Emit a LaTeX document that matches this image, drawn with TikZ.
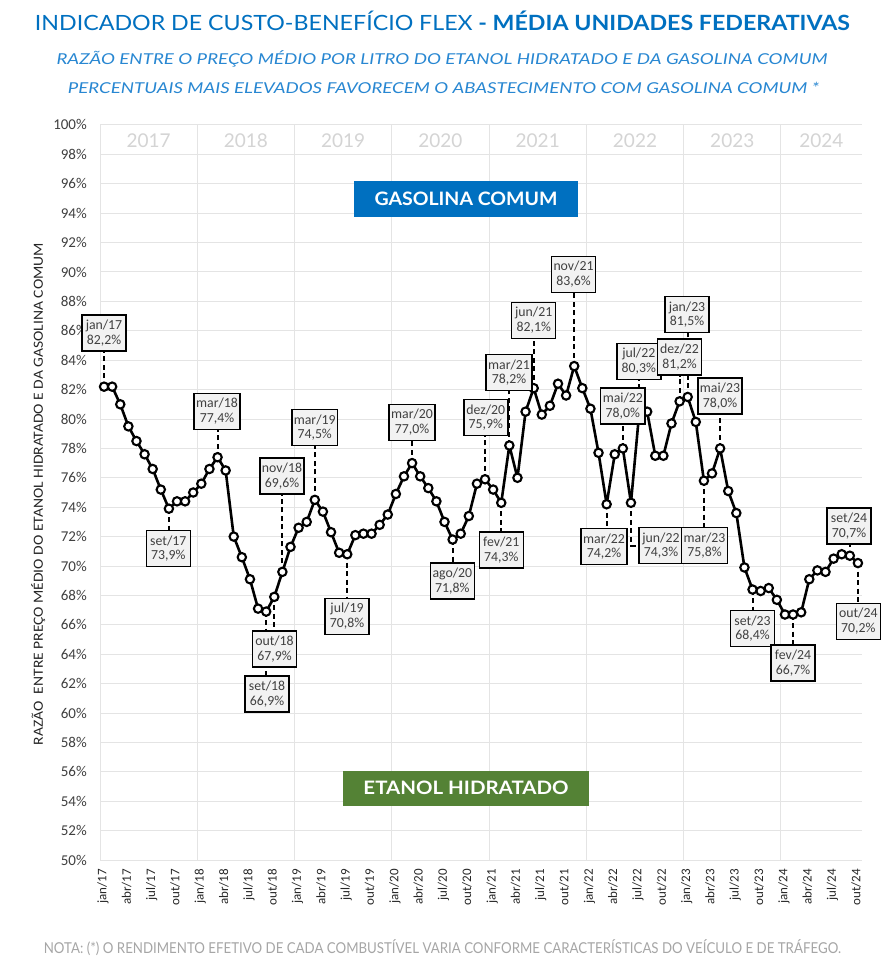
\documentclass[tikz,border=0pt]{standalone}
\usepackage{fontspec}
\usepackage{graphicx}
\setmainfont{Carlito}
\newfontfamily\latofont{Lato}
\usetikzlibrary{calc}
\pgfdeclarelayer{front}
\pgfsetlayers{main,front}
\definecolor{titleblue}{RGB}{0,112,192}
\definecolor{subblue}{RGB}{40,135,210}
\definecolor{gasblue}{RGB}{0,112,192}
\definecolor{etgreen}{RGB}{84,130,53}
\definecolor{gridgray}{RGB}{228,228,228}
\definecolor{yeargray}{RGB}{212,212,212}
\definecolor{notegray}{RGB}{166,166,166}
\definecolor{lblfill}{RGB}{242,242,242}
\definecolor{txtgray}{RGB}{64,64,64}
\tikzset{
  gridline/.style={draw=gridgray, line width=1pt},
  ytick/.style={anchor=base east, inner sep=0pt, text=txtgray, font=\fontsize{15}{17}\selectfont},
  xtick/.style={anchor=mid east, rotate=90, inner sep=0pt, text=black!85, font=\fontsize{13}{15}\selectfont},
  yearlbl/.style={anchor=base, inner sep=0pt, text=yeargray, font=\latofont\fontsize{19}{21}\selectfont},
  dataline/.style={draw=black, line width=2.6pt, line join=round},
  ptmark/.style={circle, draw=black, fill=white, line width=2.1pt, minimum size=8.4pt, inner sep=0pt},
  leaderline/.style={draw=black, line width=2pt, dash pattern=on 5pt off 3.5pt},
  datalbl/.style={draw=black, line width=1.4pt, fill=lblfill, text=txtgray, align=center,
     minimum width=44pt, minimum height=36pt, inner sep=2pt, font=\fontsize{13.8}{14.7}\selectfont},
  legbox/.style={text=white, inner sep=0pt, font=\latofont\bfseries\fontsize{18.5}{20}\selectfont},
}
\begin{document}
\begin{tikzpicture}[x=1pt,y=-1pt]
\useasboundingbox (0,0) rectangle (886,965);
\fill[white] (0,0) rectangle (886,965);
% titles
\node[anchor=base, inner sep=0pt, text=titleblue] (title) at (442.5,30.7)
  {\resizebox{815pt}{\height}{\latofont\fontsize{21}{24}\selectfont INDICADOR DE CUSTO-BENEFÍCIO FLEX {\bfseries - MÉDIA UNIDADES FEDERATIVAS}}};
\node[anchor=base, inner sep=0pt, text=subblue] (sub1) at (442,65)
  {\resizebox{771pt}{\height}{\latofont\itshape\fontsize{15}{17}\selectfont RAZÃO ENTRE O PREÇO MÉDIO POR LITRO DO ETANOL HIDRATADO E DA GASOLINA COMUM}};
\node[anchor=base, inner sep=0pt, text=subblue] (sub2) at (443.4,93.5)
  {\resizebox{751pt}{\height}{\latofont\itshape\fontsize{15}{17}\selectfont PERCENTUAIS MAIS ELEVADOS FAVORECEM O ABASTECIMENTO COM GASOLINA COMUM *}};
% grid
\foreach \k in {0,...,25} {
  \draw[gridline] (100,{125+\k*29.4}) -- (862,{125+\k*29.4});
  \pgfmathtruncatemacro\pv{100-2*\k}
  \node[ytick] (yt\k) at (87,{130+\k*29.4}) {\pv\%};
}
\foreach \k in {0,...,7} {
  \draw[gridline] ({100+\k*97.272},125) -- ({100+\k*97.272},860);
}
\foreach \yr [count=\k from 0] in {2017,...,2024} {
  \pgfmathsetmacro\xa{100+\k*97.272}
  \pgfmathsetmacro\xb{min(862,100+(\k+1)*97.272)}
  \node[yearlbl] (yr\yr) at ({(\xa+\xb)/2},147.5) {\yr};
}
% x tick labels
\foreach \yy [count=\yi from 0] in {17,...,24} {
  \foreach \mm [count=\mi from 0] in {jan,abr,jul,out} {
    \pgfmathsetmacro\xx{100+(12*\yi+3*\mi+0.5)*8.106}
    \node[xtick] (xl\mm\yy) at (\xx,869) {\mm/\yy};
  }
}
% y axis title
\node[rotate=90, inner sep=0pt, text=black!85] (ytitle) at (38.3,494)
  {\resizebox{502pt}{\height}{\fontsize{14}{16}\selectfont RAZÃO\ \ ENTRE PREÇO MÉDIO DO ETANOL HIDRATADO E DA GASOLINA COMUM}};
% legend boxes
\node[legbox, fill=gasblue, minimum width=223.4pt, minimum height=36pt] (gas) at (466,199)
  {\resizebox{183pt}{\height}{GASOLINA COMUM}};
\node[legbox, fill=etgreen, minimum width=246pt, minimum height=35pt] (eta) at (466,788.3)
  {\resizebox{205pt}{\height}{ETANOL HIDRATADO}};
% note
\node[anchor=base, inner sep=0pt, text=notegray] (nota) at (442.3,953)
  {\resizebox{797pt}{\height}{\latofont\fontsize{15}{17}\selectfont NOTA: (*) O RENDIMENTO EFETIVO DE CADA COMBUSTÍVEL VARIA CONFORME CARACTERÍSTICAS DO VEÍCULO E DE TRÁFEGO.}};
% data coordinates
\foreach \v [count=\n from 0] in {82.2,82.2,81.0,79.5,78.5,77.6,76.6,75.2,73.9,74.4,
 74.4,75.0,75.6,76.6,77.4,76.5,72.0,70.6,69.1,67.1,
 66.9,67.9,69.6,71.3,72.6,73.0,74.5,73.7,72.3,70.9,
 70.8,72.1,72.2,72.2,72.8,73.5,74.9,76.1,77.0,76.1,
 75.3,74.4,73.0,71.8,72.2,73.4,75.6,75.9,75.2,74.3,
 78.2,76.0,80.5,82.1,80.3,80.9,82.4,81.6,83.6,82.1,
 80.7,77.7,74.2,77.6,78.0,74.3,80.3,80.5,77.5,77.5,
 79.7,81.2,81.5,79.8,75.8,76.3,78.0,75.1,73.6,69.9,
 68.4,68.3,68.5,67.7,66.7,66.7,66.85,69.1,69.7,69.6,
 70.5,70.8,70.7,70.2} {
  \coordinate (c\n) at ({100+(\n+0.5)*8.106},{125+(100-\v)*14.7});
}
% data labels (front layer)
\begin{pgfonlayer}{front}
\node[datalbl] (l0) at (104,333) {jan/17\\82,2\%};
\node[datalbl] (l8) at (168.3,548.5) {set/17\\73,9\%};
\node[datalbl] (l14) at (217,411.3) {mar/18\\77,4\%};
\node[datalbl] (l20) at (267,694) {set/18\\66,9\%};
\node[datalbl] (l21) at (274.5,649) {out/18\\67,9\%};
\node[datalbl] (l22) at (282,476) {nov/18\\69,6\%};
\node[datalbl] (l26) at (314.7,427.5) {mar/19\\74,5\%};
\node[datalbl] (l30) at (347,616.3) {jul/19\\70,8\%};
\node[datalbl] (l38) at (412,422.3) {mar/20\\77,0\%};
\node[datalbl] (l43) at (452.3,581) {ago/20\\71,8\%};
\node[datalbl] (l47) at (485.8,417.7) {dez/20\\75,9\%};
\node[datalbl] (l49) at (501.3,550) {fev/21\\74,3\%};
\node[datalbl] (l50) at (509,372.5) {mar/21\\78,2\%};
\node[datalbl] (l53) at (533.7,320.3) {jun/21\\82,1\%};
\node[datalbl] (l58) at (573.5,274.3) {nov/21\\83,6\%};
\node[datalbl] (l62) at (604,546.7) {mar/22\\74,2\%};
\node[datalbl] (l64) at (622.8,406) {mai/22\\78,0\%};
\node[datalbl] (l65) at (661,545.5) {jun/22\\74,3\%};
\node[datalbl] (l74) at (704.5,545.5) {mar/23\\75,8\%};
\node[datalbl] (l66) at (638.8,361.3) {jul/22\\80,3\%};
\node[datalbl] (l72) at (687,314.7) {jan/23\\81,5\%};
\node[datalbl] (l71) at (679.5,357) {dez/22\\81,2\%};
\node[datalbl] (l76) at (720,396) {mai/23\\78,0\%};
\node[datalbl] (l80) at (752.5,628.7) {set/23\\68,4\%};
\node[datalbl] (l85) at (793,663) {fev/24\\66,7\%};
\node[datalbl] (l92) at (849,525.8) {set/24\\70,7\%};
\node[datalbl] (l93) at (858.3,621.3) {out/24\\70,2\%};
\end{pgfonlayer}
% leaders
\foreach \n/\side in {0/south,14/south,22/south,26/south,38/south,47/south,50/south,53/south,58/south,64/south,66/south,71/south,72/south,76/south,92/south,
  8/north,20/north,21/north,30/north,43/north,49/north,62/north,74/north,80/north,85/north,93/north} {
  \draw[leaderline] (c\n) -- (c\n |- l\n.\side);
}
\draw[leaderline] (c65) |- (l65.west);
% data line and markers
\draw[dataline] (c0) \foreach \n in {1,...,93} {-- (c\n)};
\foreach \n in {0,...,93} {\node[ptmark] (m\n) at (c\n) {};}
\end{tikzpicture}
\end{document}
